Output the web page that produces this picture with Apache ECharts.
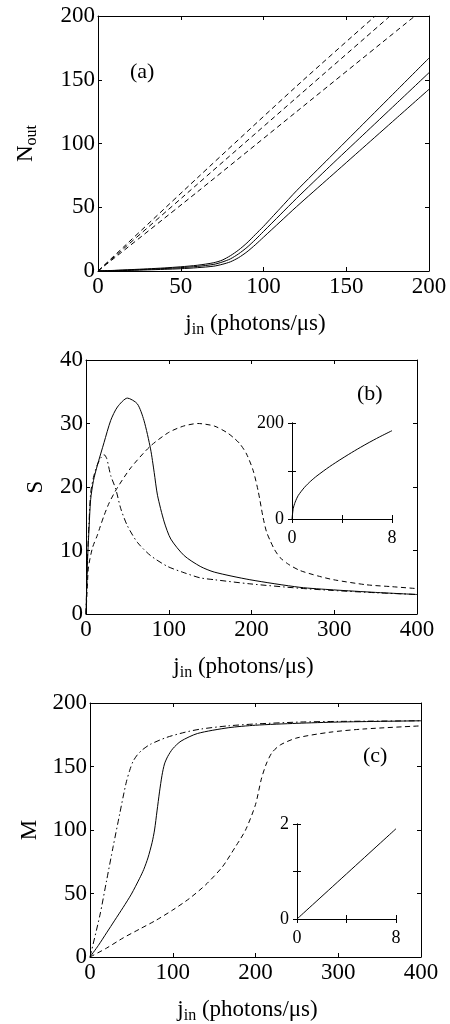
<!DOCTYPE html>
<html>
<head>
  <meta charset="utf-8" />
  <title>N_out, S and M versus j_in</title>
  <script src="https://cdn.jsdelivr.net/npm/echarts@6/dist/echarts.min.js"></script>
  <style>
    html, body { margin: 0; padding: 0; background: #fff; }
    #chart { width: 450px; height: 1024px; }
  </style>
</head>
<body>
  <div id="chart"></div>
  <script>
    // panel (a): N_out vs j_in, solid and dashed families
    const aSolidTop = [[0,0],[10,0.5],[20,1.1],[30,1.7],[40,2.4],[50,3.3],[60,4.5],[70,6.5],[75,8.5],[80,12],[85,16.5],[90,22],[95,28.5],[100,35],[105,42],[110,49],[120,63],[140,89],[160,115],[180,141],[200,167]];
    const aSolidMid = [[0,0],[10,0.4],[20,0.8],[30,1.3],[40,1.9],[50,2.6],[60,3.6],[70,5.2],[75,7],[80,9.5],[85,13.5],[90,18.5],[95,24.5],[100,31],[110,44],[120,57],[140,82],[160,106.5],[180,131],[200,155.5]];
    const aSolidLow = [[0,0],[10,0.2],[20,0.5],[30,0.9],[40,1.3],[50,1.8],[60,2.6],[70,3.8],[75,5.2],[80,7.2],[85,10.5],[90,15],[95,20.5],[100,26.5],[110,38.5],[120,50.5],[140,73.5],[160,96.5],[180,119.5],[200,142.5]];
    const aDashTop = [[0,0],[60,73],[120,145],[167.5,200]];
    const aDashMid = [[0,0],[60,68],[120,136],[176.5,200]];
    const aDashLow = [[0,0],[60,62],[120,125],[191.5,200]];

    // panel (b): S vs j_in
    const bSolid = [[0,0],[0.8,4],[2,9],[3.5,13],[5.6,18],[9,21],[13.7,23.4],[21.8,27],[29.9,30.5],[38,32.6],[50,34],[62,33.1],[70,30.5],[78,26],[82.4,22.3],[86.4,18.7],[94.5,14.5],[102.5,11.8],[118.6,9.2],[138,7.5],[155,6.6],[198,5.4],[258.6,4.2],[299,3.8],[350,3.4],[400,3.07]];
    const bDashDot = [[0,0],[0.8,4],[2,9.5],[3.5,14],[5.6,19],[9,21.5],[13.7,23.5],[18,24.6],[21.8,25.1],[25,24.5],[29.9,21.8],[35.9,19.7],[42,16.6],[50,13.9],[62,11.3],[78,9.2],[98.4,7.5],[118.6,6.5],[137.8,5.7],[155,5.4],[198,4.75],[258.6,4.05],[299,3.7],[350,3.35],[400,3.07]];
    const bDash = [[0,0],[1.5,4],[3,7.4],[8,10.5],[13.7,12.4],[17,13.7],[21.8,15.5],[28,17.5],[37.5,19.8],[54,23],[77.5,26.4],[100,28.6],[118,29.6],[135,30],[155,29.6],[170,28.6],[178,27.8],[186,26.8],[194,25.2],[202,22.6],[208,19.4],[214,15.2],[218,13],[222.4,11.6],[228,10.1],[234.4,8.9],[245,7.8],[258.6,6.85],[280,6],[299,5.4],[339,4.6],[370,4.3],[400,4.0]];
    const bInset = [[0,0],[0.1,22],[0.25,35],[0.5,49],[1,66],[1.5,79],[2,90],[3,109],[4,126],[5,142],[6,157],[7,171],[8,184]];

    // panel (c): M vs j_in
    const cSolid = [[0,0],[10,9],[20,19],[30,29],[40,39],[50,49.5],[60,62],[65,69],[70,78],[75,90],[78,100],[81,115],[84,130],[87,143],[90,152],[94,158],[100,164],[110,170],[130,176],[167,180.5],[200,182.5],[250,184],[300,185],[400,186]];
    const cDashDot = [[0,0],[12,33],[20,60],[28,87],[36,113],[40,126],[44,138],[48,147],[52,154],[57,159],[63,163],[73,167.5],[93,173],[115,177],[134,179.5],[167,182],[200,183.5],[254,185],[300,185.5],[400,186]];
    const cDash = [[0,0],[20,7],[40,15],[60,22],[80,29],[100,37],[120,46],[140,57],[160,71],[175,86],[188,100],[200,120],[207,140],[213,152],[220,161],[230,167],[250,172.5],[290,177],[330,179.5],[400,182]];
    const cInset = [[0,0],[8,1.9]];

    const FONT = '"Liberation Serif", "Times New Roman", serif';
    const BLACK = '#000';
    const DASH = [5, 3.5];
    const DASHDOT = [6, 3, 1.5, 3];

    const grids = [
      { left: 98, top: 16, width: 331, height: 255 },   // (a)
      { left: 86, top: 360, width: 331, height: 254 },  // (b)
      { left: 90, top: 703, width: 331, height: 254 },  // (c)
      { left: 292, top: 423, width: 100, height: 96 },  // inset (b)
      { left: 297, top: 824, width: 99, height: 95 }    // inset (c)
    ].map(g => Object.assign({ containLabel: false, outerBoundsMode: 'none' }, g));

    // rich text for subscripts in axis titles
    const richTitle = {
      m: { fontFamily: FONT, fontSize: 23, color: BLACK, lineHeight: 25, verticalAlign: 'top' },
      s: { fontFamily: FONT, fontSize: 16, color: BLACK, lineHeight: 16, padding: [11, 0, 0, 0] }
    };
    const jName = '{m|j}{s|in}{m| (photons/μs)}';

    const xAxes = [];
    const yAxes = [];

    function frameAxes(gi, xMax, xInt, yMax, yInt, yName, yGap) {
      const line = { show: true, onZero: false, lineStyle: { color: BLACK, width: 1 } };
      const tick = { show: true, inside: true, length: 4, lineStyle: { color: BLACK, width: 1 } };
      const label = { color: BLACK, fontFamily: FONT, fontSize: 23 };
      xAxes.push({
        type: 'value', gridIndex: gi, min: 0, max: xMax, interval: xInt, position: 'bottom',
        axisLine: line, axisTick: tick, splitLine: { show: false },
        axisLabel: Object.assign({ margin: 4 }, label),
        name: jName, nameLocation: 'middle', nameGap: 41,
        nameTextStyle: { rich: richTitle, padding: [0, 16, 0, 0] }
      });
      xAxes.push({
        type: 'value', gridIndex: gi, min: 0, max: xMax, interval: xInt, position: 'top',
        axisLine: line, axisTick: tick, splitLine: { show: false }, axisLabel: { show: false }
      });
      yAxes.push({
        type: 'value', gridIndex: gi, min: 0, max: yMax, interval: yInt, position: 'left',
        axisLine: line, axisTick: tick, splitLine: { show: false },
        axisLabel: Object.assign({ margin: 3 }, label),
        name: yName, nameLocation: 'middle', nameGap: yGap, nameRotate: 90,
        nameTextStyle: { rich: richTitle }
      });
      yAxes.push({
        type: 'value', gridIndex: gi, min: 0, max: yMax, interval: yInt, position: 'right',
        axisLine: line, axisTick: tick, splitLine: { show: false }, axisLabel: { show: false }
      });
    }

    // inset axes: ticks cross the axis line, so an outside and an inside copy
    function insetAxes(gi, xMax, yMax) {
      const line = { show: true, onZero: false, lineStyle: { color: BLACK, width: 1 } };
      const label = { color: BLACK, fontFamily: FONT, fontSize: 18 };
      [false, true].forEach(inside => {
        const tick = { show: true, inside: inside, length: 4, lineStyle: { color: BLACK, width: 1 } };
        xAxes.push({
          type: 'value', gridIndex: gi, min: 0, max: xMax, interval: xMax / 2, position: 'bottom',
          axisLine: line, axisTick: tick, splitLine: { show: false },
          axisLabel: inside ? { show: false } :
            Object.assign({ margin: 10, formatter: v => (v === xMax / 2 ? '' : String(v)) }, label)
        });
        yAxes.push({
          type: 'value', gridIndex: gi, min: 0, max: yMax, interval: yMax / 2, position: 'left',
          axisLine: line, axisTick: tick, splitLine: { show: false },
          axisLabel: inside ? { show: false } :
            Object.assign({ margin: 8, formatter: v => (v === yMax / 2 ? '' : String(v)) }, label)
        });
      });
    }

    frameAxes(0, 200, 50, 200, 50, '{m|N}{s|out}', 59);  // axes 0,1
    frameAxes(1, 400, 100, 40, 10, '{m|S}', 37);         // axes 2,3
    frameAxes(2, 400, 100, 200, 50, '{m|M}', 43);        // axes 4,5
    insetAxes(3, 8, 200);                                // axes 6,7
    insetAxes(4, 8, 2);                                  // axes 8,9

    function curve(data, axis, type) {
      return {
        type: 'line', data: data, xAxisIndex: axis, yAxisIndex: axis,
        showSymbol: false, smooth: 0.25, clip: true, silent: true,
        lineStyle: { color: BLACK, width: 1, type: type || 'solid' }
      };
    }

    const series = [
      curve(aSolidTop, 0), curve(aSolidMid, 0), curve(aSolidLow, 0),
      curve(aDashTop, 0, DASH), curve(aDashMid, 0, DASH), curve(aDashLow, 0, DASH),
      curve(bSolid, 2), curve(bDashDot, 2, DASHDOT), curve(bDash, 2, DASH),
      curve(cSolid, 4), curve(cDashDot, 4, DASHDOT), curve(cDash, 4, DASH),
      curve(bInset, 6), curve(cInset, 8)
    ];

    function panelLabel(text, left, top) {
      return { type: 'text', left: left, top: top, silent: true,
        style: { text: text, fill: BLACK, font: '22px ' + FONT } };
    }

    const chart = echarts.init(document.getElementById('chart'), null, { renderer: 'canvas' });
    chart.setOption({
      animation: false,
      backgroundColor: '#fff',
      grid: grids,
      xAxis: xAxes,
      yAxis: yAxes,
      series: series,
      graphic: [
        panelLabel('(a)', 130, 61),
        panelLabel('(b)', 357, 383),
        panelLabel('(c)', 363, 745)
      ]
    });
  </script>
</body>
</html>
